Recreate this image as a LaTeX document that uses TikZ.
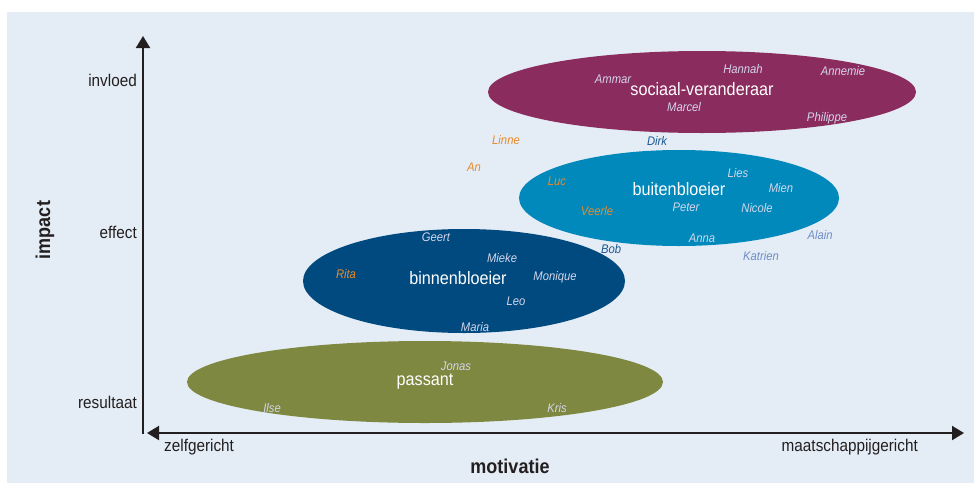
\documentclass[tikz,border=0pt]{standalone}
\usepackage{fontspec}
\setmainfont{Liberation Sans}[FakeStretch=0.9]
\usetikzlibrary{arrows.meta}
\definecolor{panel}{HTML}{E4EDF5}
\definecolor{sv}{HTML}{8B2C5E}
\definecolor{bub}{HTML}{0189BB}
\definecolor{bib}{HTML}{014A80}
\definecolor{pas}{HTML}{7E8840}
\definecolor{nm}{HTML}{D3D6EA}
\definecolor{org}{HTML}{E98A2A}
\definecolor{dkb}{HTML}{1D5793}
\definecolor{ltb}{HTML}{6F8CC6}
\definecolor{axis}{HTML}{231F20}
\begin{document}
\begin{tikzpicture}[x=1pt,y=-1pt,
  nm/.style={font=\fontsize{12.5}{12.5}\selectfont\itshape, text=nm, inner sep=0pt},
  title/.style={font=\fontsize{18}{18}\selectfont, text=white, inner sep=0pt},
  axlab/.style={font=\fontsize{17}{17}\selectfont, text=axis, inner sep=0pt},
  axtitle/.style={font=\fontsize{20}{20}\selectfont\bfseries, text=axis, inner sep=0pt},
  axline/.style={line width=2pt, draw=axis, -{Triangle[length=12pt,width=14pt]}}]
\useasboundingbox (0,0) rectangle (974,485);
\fill[white] (0,0) rectangle (974,485);
\fill[panel] (7,12) rectangle (974,483);
% ellipses
\fill[sv]  (702,92)  ellipse [x radius=214, y radius=41];
\fill[bub] (679,198) ellipse [x radius=160, y radius=48];
\fill[bib] (464,281) ellipse [x radius=161, y radius=52];
\fill[pas] (425,382) ellipse [x radius=238, y radius=41];
% axes
\coordinate (o) at (143,434);
\coordinate (top) at (143,36);
\coordinate (left) at (147,433);
\coordinate (right) at (964,433);
\coordinate (mid) at (555,433);
\draw[axline] (o) -- (top);
\draw[axline] (mid) -- (right);
\draw[axline] (mid) -- (left);
% axis labels
\node[axlab, anchor=east] (invloed) at (137,80) {invloed};
\node[axlab, anchor=east] (effect) at (137,232) {effect};
\node[axlab, anchor=east] (resultaat) at (137,402) {resultaat};
\node[axtitle, rotate=90] (impact) at (45,230) {impact};
\node[axlab, anchor=west] (zelf) at (164,447) {zelfgericht};
\node[axlab, anchor=east] (maat) at (918,447) {maatschappijgericht};
\node[axtitle] (motivatie) at (510,466) {motivatie};
% titles
\node[title] (t1) at (702,89) {sociaal-veranderaar};
\node[title] (t2) at (679,189) {buitenbloeier};
\node[title] (t3) at (458,278) {binnenbloeier};
\node[title] (t4) at (425,382) {passant};
% names
\node[nm] (Ammar) at (613,79) {Ammar};
\node[nm] (Hannah) at (743,69) {Hannah};
\node[nm] (Annemie) at (843,71) {Annemie};
\node[nm] (Marcel) at (684,107) {Marcel};
\node[nm] (Philippe) at (827,118) {Philippe};
\node[nm, text=org] (Linne) at (506,140) {Linne};
\node[nm, text=dkb] (Dirk) at (657,141) {Dirk};
\node[nm, text=org] (An) at (474,167) {An};
\node[nm, text=org] (Luc) at (557,181) {Luc};
\node[nm] (Lies) at (738,173) {Lies};
\node[nm] (Mien) at (781,188) {Mien};
\node[nm, text=org] (Veerle) at (597,211) {Veerle};
\node[nm] (Peter) at (686,207) {Peter};
\node[nm] (Nicole) at (757,208) {Nicole};
\node[nm] (Anna) at (702,238) {Anna};
\node[nm, text=ltb] (Alain) at (820,235) {Alain};
\node[nm, text=dkb] (Bob) at (611,249) {Bob};
\node[nm, text=ltb] (Katrien) at (761,256) {Katrien};
\node[nm] (Geert) at (436,237) {Geert};
\node[nm] (Mieke) at (502,258) {Mieke};
\node[nm, text=org] (Rita) at (346,274) {Rita};
\node[nm] (Monique) at (555,277) {Monique};
\node[nm] (Leo) at (516,301) {Leo};
\node[nm] (Maria) at (475,327) {Maria};
\node[nm] (Jonas) at (456,366) {Jonas};
\node[nm] (Ilse) at (272,408) {Ilse};
\node[nm] (Kris) at (557,408) {Kris};
\end{tikzpicture}
\end{document}
